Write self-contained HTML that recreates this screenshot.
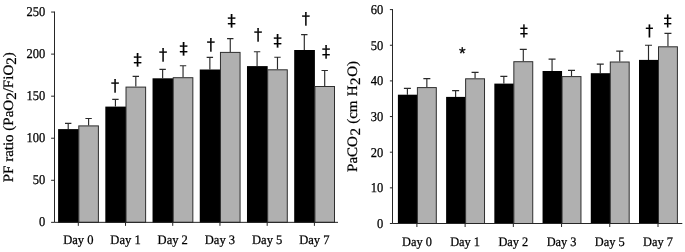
<!DOCTYPE html>
<html><head><meta charset="utf-8"><title>Figure</title>
<style>
html,body{margin:0;padding:0;background:#fff;}
body{width:685px;height:252px;overflow:hidden;}
svg{display:block;}
text{font-family:"Liberation Serif","DejaVu Serif",serif;fill:#000;text-rendering:geometricPrecision;}
.t,.yl{stroke:#000;stroke-width:0.25px;}
.t{font-size:13px;}
.tk{font-size:13.5px;}
.yl{font-size:14.5px;}
.sym,.sym2,.ast{text-rendering:geometricPrecision;}
.sym,.sym2{stroke:#000;stroke-width:0.2px;}
.sym{font-family:"DejaVu Sans","Liberation Sans",sans-serif;font-size:16.4px;}
.sym2{font-family:"DejaVu Sans","Liberation Sans",sans-serif;font-size:15.7px;}
.ast{font-family:"Liberation Sans",sans-serif;font-size:17px;stroke:#000;stroke-width:0.3px;}
</style></head><body>
<svg width="685" height="252" viewBox="0 0 685 252" style="will-change:transform;filter:blur(0.35px)">
<rect width="685" height="252" fill="#fff"/>

<path d="M68.20 129.10V123.30M65.00 123.30H71.40" stroke="#2a2a2a" stroke-width="1.15" fill="none"/>
<path d="M88.60 125.40V118.50M85.40 118.50H91.80" stroke="#2a2a2a" stroke-width="1.15" fill="none"/>
<rect x="58.10" y="129.10" width="20.70" height="93.75" fill="#000"/>
<rect x="78.80" y="125.90" width="19.60" height="96.45" fill="#b0b0b0" stroke="#2e2e2e" stroke-width="1"/>
<path d="M115.42 106.60V99.40M112.22 99.40H118.62" stroke="#2a2a2a" stroke-width="1.15" fill="none"/>
<path d="M135.82 86.60V76.40M132.62 76.40H139.02" stroke="#2a2a2a" stroke-width="1.15" fill="none"/>
<rect x="105.32" y="106.60" width="20.70" height="116.25" fill="#000"/>
<rect x="126.02" y="87.10" width="19.60" height="135.25" fill="#b0b0b0" stroke="#2e2e2e" stroke-width="1"/>
<path d="M162.64 78.30V69.30M159.44 69.30H165.84" stroke="#2a2a2a" stroke-width="1.15" fill="none"/>
<path d="M183.04 77.20V65.70M179.84 65.70H186.24" stroke="#2a2a2a" stroke-width="1.15" fill="none"/>
<rect x="152.54" y="78.30" width="20.70" height="144.55" fill="#000"/>
<rect x="173.24" y="77.70" width="19.60" height="144.65" fill="#b0b0b0" stroke="#2e2e2e" stroke-width="1"/>
<path d="M209.86 69.50V57.40M206.66 57.40H213.06" stroke="#2a2a2a" stroke-width="1.15" fill="none"/>
<path d="M230.26 51.90V38.60M227.06 38.60H233.46" stroke="#2a2a2a" stroke-width="1.15" fill="none"/>
<rect x="199.76" y="69.50" width="20.70" height="153.35" fill="#000"/>
<rect x="220.46" y="52.40" width="19.60" height="169.95" fill="#b0b0b0" stroke="#2e2e2e" stroke-width="1"/>
<path d="M257.08 66.10V51.70M253.88 51.70H260.28" stroke="#2a2a2a" stroke-width="1.15" fill="none"/>
<path d="M277.48 69.30V57.20M274.28 57.20H280.68" stroke="#2a2a2a" stroke-width="1.15" fill="none"/>
<rect x="246.98" y="66.10" width="20.70" height="156.75" fill="#000"/>
<rect x="267.68" y="69.80" width="19.60" height="152.55" fill="#b0b0b0" stroke="#2e2e2e" stroke-width="1"/>
<path d="M304.30 50.00V34.60M301.10 34.60H307.50" stroke="#2a2a2a" stroke-width="1.15" fill="none"/>
<path d="M324.70 86.00V70.50M321.50 70.50H327.90" stroke="#2a2a2a" stroke-width="1.15" fill="none"/>
<rect x="294.20" y="50.00" width="20.70" height="172.85" fill="#000"/>
<rect x="314.90" y="86.50" width="19.60" height="135.85" fill="#b0b0b0" stroke="#2e2e2e" stroke-width="1"/>
<path d="M54.50 11.56V222.35H338.00" stroke="#262626" stroke-width="1" fill="none"/>
<path d="M51.10 222.35H54.50" stroke="#262626" stroke-width="1"/>
<text class="t tk" transform="translate(45.30 226.15) scale(0.925 1)" text-anchor="end">0</text>
<path d="M51.10 180.29H54.50" stroke="#262626" stroke-width="1"/>
<text class="t tk" transform="translate(45.30 184.09) scale(0.925 1)" text-anchor="end">50</text>
<path d="M51.10 138.23H54.50" stroke="#262626" stroke-width="1"/>
<text class="t tk" transform="translate(45.30 142.03) scale(0.925 1)" text-anchor="end">100</text>
<path d="M51.10 96.18H54.50" stroke="#262626" stroke-width="1"/>
<text class="t tk" transform="translate(45.30 99.98) scale(0.925 1)" text-anchor="end">150</text>
<path d="M51.10 54.12H54.50" stroke="#262626" stroke-width="1"/>
<text class="t tk" transform="translate(45.30 57.92) scale(0.925 1)" text-anchor="end">200</text>
<path d="M51.10 12.06H54.50" stroke="#262626" stroke-width="1"/>
<text class="t tk" transform="translate(45.30 15.86) scale(0.925 1)" text-anchor="end">250</text>
<path d="M78.30 222.35V225.85" stroke="#262626" stroke-width="1"/>
<text class="t" transform="translate(78.30 244.20) scale(0.965 1)" text-anchor="middle">Day 0</text>
<path d="M125.52 222.35V225.85" stroke="#262626" stroke-width="1"/>
<text class="t" transform="translate(125.52 244.20) scale(0.965 1)" text-anchor="middle">Day 1</text>
<path d="M172.74 222.35V225.85" stroke="#262626" stroke-width="1"/>
<text class="t" transform="translate(172.74 244.20) scale(0.965 1)" text-anchor="middle">Day 2</text>
<path d="M219.96 222.35V225.85" stroke="#262626" stroke-width="1"/>
<text class="t" transform="translate(219.96 244.20) scale(0.965 1)" text-anchor="middle">Day 3</text>
<path d="M267.18 222.35V225.85" stroke="#262626" stroke-width="1"/>
<text class="t" transform="translate(267.18 244.20) scale(0.965 1)" text-anchor="middle">Day 5</text>
<path d="M314.40 222.35V225.85" stroke="#262626" stroke-width="1"/>
<text class="t" transform="translate(314.40 244.20) scale(0.965 1)" text-anchor="middle">Day 7</text>
<text class="sym" x="115.20" y="91.00" text-anchor="middle">†</text>
<text class="sym" x="137.50" y="65.00" text-anchor="middle">‡</text>
<text class="sym" x="163.00" y="60.00" text-anchor="middle">†</text>
<text class="sym" x="183.70" y="54.00" text-anchor="middle">‡</text>
<text class="sym" x="210.90" y="50.00" text-anchor="middle">†</text>
<text class="sym" x="231.50" y="26.00" text-anchor="middle">‡</text>
<text class="sym" x="258.10" y="40.00" text-anchor="middle">†</text>
<text class="sym" x="277.50" y="46.00" text-anchor="middle">‡</text>
<text class="sym" x="305.80" y="24.00" text-anchor="middle">†</text>
<text class="sym" x="326.00" y="57.00" text-anchor="middle">‡</text>
<text class="yl" transform="translate(12.70 182.30) rotate(-90) scale(1 0.96)"><tspan font-size="15">PF ratio (PaO<tspan dy="3.5">2</tspan><tspan dy="-3.5">/FiO</tspan><tspan dy="3.5">2</tspan><tspan dy="-3.5">)</tspan></tspan></text>
<path d="M407.40 94.70V88.30M403.90 88.30H410.90" stroke="#2a2a2a" stroke-width="1.15" fill="none"/>
<path d="M426.85 87.10V78.60M423.35 78.60H430.35" stroke="#2a2a2a" stroke-width="1.15" fill="none"/>
<rect x="397.90" y="94.70" width="19.50" height="129.30" fill="#000"/>
<rect x="417.40" y="87.60" width="18.90" height="135.90" fill="#b0b0b0" stroke="#2e2e2e" stroke-width="1"/>
<path d="M455.62 96.90V90.60M452.12 90.60H459.12" stroke="#2a2a2a" stroke-width="1.15" fill="none"/>
<path d="M475.07 78.30V72.30M471.57 72.30H478.57" stroke="#2a2a2a" stroke-width="1.15" fill="none"/>
<rect x="446.12" y="96.90" width="19.50" height="127.10" fill="#000"/>
<rect x="465.62" y="78.80" width="18.90" height="144.70" fill="#b0b0b0" stroke="#2e2e2e" stroke-width="1"/>
<path d="M503.84 83.60V76.40M500.34 76.40H507.34" stroke="#2a2a2a" stroke-width="1.15" fill="none"/>
<path d="M523.29 61.20V49.30M519.79 49.30H526.79" stroke="#2a2a2a" stroke-width="1.15" fill="none"/>
<rect x="494.34" y="83.60" width="19.50" height="140.40" fill="#000"/>
<rect x="513.84" y="61.70" width="18.90" height="161.80" fill="#b0b0b0" stroke="#2e2e2e" stroke-width="1"/>
<path d="M552.06 71.00V59.10M548.56 59.10H555.56" stroke="#2a2a2a" stroke-width="1.15" fill="none"/>
<path d="M571.51 76.10V70.30M568.01 70.30H575.01" stroke="#2a2a2a" stroke-width="1.15" fill="none"/>
<rect x="542.56" y="71.00" width="19.50" height="153.00" fill="#000"/>
<rect x="562.06" y="76.60" width="18.90" height="146.90" fill="#b0b0b0" stroke="#2e2e2e" stroke-width="1"/>
<path d="M600.28 73.20V64.20M596.78 64.20H603.78" stroke="#2a2a2a" stroke-width="1.15" fill="none"/>
<path d="M619.73 61.50V51.10M616.23 51.10H623.23" stroke="#2a2a2a" stroke-width="1.15" fill="none"/>
<rect x="590.78" y="73.20" width="19.50" height="150.80" fill="#000"/>
<rect x="610.28" y="62.00" width="18.90" height="161.50" fill="#b0b0b0" stroke="#2e2e2e" stroke-width="1"/>
<path d="M648.50 59.90V45.20M645.00 45.20H652.00" stroke="#2a2a2a" stroke-width="1.15" fill="none"/>
<path d="M667.95 46.30V33.40M664.45 33.40H671.45" stroke="#2a2a2a" stroke-width="1.15" fill="none"/>
<rect x="639.00" y="59.90" width="19.50" height="164.10" fill="#000"/>
<rect x="658.50" y="46.80" width="18.90" height="176.70" fill="#b0b0b0" stroke="#2e2e2e" stroke-width="1"/>
<path d="M392.50 9.10V223.50H682.30" stroke="#262626" stroke-width="1" fill="none"/>
<path d="M389.90 223.50H392.50" stroke="#262626" stroke-width="1"/>
<text class="t tk" transform="translate(383.30 227.90) scale(0.925 1)" text-anchor="end">0</text>
<path d="M389.90 187.85H392.50" stroke="#262626" stroke-width="1"/>
<text class="t tk" transform="translate(383.30 192.25) scale(0.925 1)" text-anchor="end">10</text>
<path d="M389.90 152.20H392.50" stroke="#262626" stroke-width="1"/>
<text class="t tk" transform="translate(383.30 156.60) scale(0.925 1)" text-anchor="end">20</text>
<path d="M389.90 116.55H392.50" stroke="#262626" stroke-width="1"/>
<text class="t tk" transform="translate(383.30 120.95) scale(0.925 1)" text-anchor="end">30</text>
<path d="M389.90 80.90H392.50" stroke="#262626" stroke-width="1"/>
<text class="t tk" transform="translate(383.30 85.30) scale(0.925 1)" text-anchor="end">40</text>
<path d="M389.90 45.25H392.50" stroke="#262626" stroke-width="1"/>
<text class="t tk" transform="translate(383.30 49.65) scale(0.925 1)" text-anchor="end">50</text>
<path d="M389.90 9.60H392.50" stroke="#262626" stroke-width="1"/>
<text class="t tk" transform="translate(383.30 14.00) scale(0.925 1)" text-anchor="end">60</text>
<path d="M416.90 223.50V227.00" stroke="#262626" stroke-width="1"/>
<text class="t" transform="translate(416.90 245.80) scale(0.95 1)" text-anchor="middle">Day 0</text>
<path d="M465.12 223.50V227.00" stroke="#262626" stroke-width="1"/>
<text class="t" transform="translate(465.12 245.80) scale(0.95 1)" text-anchor="middle">Day 1</text>
<path d="M513.34 223.50V227.00" stroke="#262626" stroke-width="1"/>
<text class="t" transform="translate(513.34 245.80) scale(0.95 1)" text-anchor="middle">Day 2</text>
<path d="M561.56 223.50V227.00" stroke="#262626" stroke-width="1"/>
<text class="t" transform="translate(561.56 245.80) scale(0.95 1)" text-anchor="middle">Day 3</text>
<path d="M609.78 223.50V227.00" stroke="#262626" stroke-width="1"/>
<text class="t" transform="translate(609.78 245.80) scale(0.95 1)" text-anchor="middle">Day 5</text>
<path d="M658.00 223.50V227.00" stroke="#262626" stroke-width="1"/>
<text class="t" transform="translate(658.00 245.80) scale(0.95 1)" text-anchor="middle">Day 7</text>
<text class="ast" x="462.20" y="59.00" text-anchor="middle">*</text>
<text class="sym2" x="524.00" y="36.00" text-anchor="middle">‡</text>
<text class="sym2" x="649.40" y="36.00" text-anchor="middle">†</text>
<text class="sym2" x="667.70" y="26.00" text-anchor="middle">‡</text>
<text class="yl" transform="translate(356.80 171.90) rotate(-90) scale(1 0.96)"><tspan font-size="15">PaCO<tspan dy="3.5" dx="0.6">2</tspan><tspan dy="-3.5" dx="0.4"> (cm </tspan><tspan dx="0.6">H</tspan><tspan dy="3.5" dx="0.4">2</tspan><tspan dy="-3.5" dx="0.6">O)</tspan></tspan></text>
</svg></body></html>
